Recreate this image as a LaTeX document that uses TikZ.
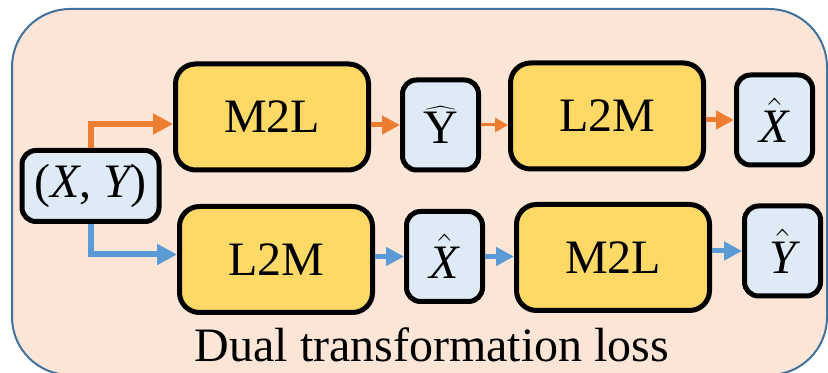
\documentclass[tikz,border=0pt]{standalone}
\usepackage{fontspec}
\setmainfont{Liberation Serif}
\usetikzlibrary{arrows.meta,positioning}
\definecolor{lossbg}{HTML}{FBE5D6}
\definecolor{lossline}{HTML}{41719C}
\definecolor{modelfill}{HTML}{FFD966}
\definecolor{varfill}{HTML}{DEEBF7}
\definecolor{oflow}{HTML}{ED7D31}
\definecolor{bflow}{HTML}{5B9BD5}
\newcommand{\itv}[1]{\mbox{\rmfamily\itshape #1}}
\tikzset{
  lossframe/.style={
    draw=lossline, fill=lossbg, line width=1pt,
    rounded corners=29pt
  },
  model/.style={
    draw, line width=2.5pt, fill=modelfill, rounded corners=10pt,
    minimum width=96.5pt, minimum height=53pt, inner sep=0pt,
    font=\rmfamily\fontsize{24}{28}\selectfont
  },
  var/.style={
    draw, line width=2.5pt, fill=varfill, rounded corners=7pt,
    minimum width=38pt, minimum height=45pt, inner sep=0pt,
    font=\rmfamily\fontsize{24}{28}\selectfont
  },
  pair/.style={var, minimum width=68.5pt, minimum height=35.5pt},
  oarrow/.style={draw=oflow, line width=2.5pt, -{Triangle[length=9pt,width=9pt]}},
  othin/.style={draw=oflow, line width=1.5pt, -{Triangle[length=6.5pt,width=7pt]}},
  obig/.style={draw=oflow, line width=3pt, -{Triangle[length=10pt,width=10pt]}},
  barrow/.style={draw=bflow, line width=2.5pt, -{Triangle[length=9pt,width=9pt]}},
  bbig/.style={draw=bflow, line width=3pt, -{Triangle[length=10pt,width=10pt]}}
}

\begin{document}
\begin{tikzpicture}

\useasboundingbox (0,0) rectangle (414pt,186.5pt);
\clip (0,0) rectangle (414pt,186.5pt);

% ---------- Loss frame ----------
\path[lossframe] (6pt,-1pt) rectangle (413.5pt,182pt);
\node[anchor=base, font=\rmfamily\fontsize{24}{28}\selectfont] (title) at (216pt,5.5pt)
  {Dual transformation loss};

% ---------- Input pair ----------
\node[pair] (xy) at (45.25pt,93.5pt) {(\itv{X}, \itv{Y})};

% ---------- Upper branch ----------
\node[model, right=5.75pt of xy, yshift=34.5pt] (m2la) {M2L};
\node[var, right=14.5pt of m2la, yshift=-4pt] (yhata) {$\widehat{\mbox{Y}}$};
\node[model, right=13.5pt of yhata, yshift=4.5pt] (l2ma) {L2M};
\node[var, right=14pt of l2ma, yshift=-2pt] (xhata) {$\hat{\itv{X}}$};

\draw[obig] (xy.north) |- ([yshift=-3.5pt]m2la.west);
\draw[oarrow] (m2la.east |- yhata.west) -- (yhata.west);
\draw[othin] (yhata.east) -- (l2ma.west |- yhata.east);
\draw[oarrow] (l2ma.east |- xhata.west) -- (xhata.west);

% ---------- Lower branch ----------
\node[model, right=7.75pt of xy, yshift=-36.75pt] (l2mb) {L2M};
\node[var, right=14.5pt of l2mb, yshift=1.5pt] (xhatb) {$\hat{\itv{X}}$};
\node[model, right=14.5pt of xhatb, yshift=-0.5pt] (m2lb) {M2L};
\node[var, right=15pt of m2lb, yshift=3.25pt] (yhatb) {$\hat{\itv{Y}}$};

\draw[bbig] (xy.south) |- ([yshift=2.5pt]l2mb.west);
\draw[barrow] (l2mb.east |- xhatb.west) -- (xhatb.west);
\draw[barrow] (xhatb.east) -- (m2lb.west |- xhatb.east);
\draw[barrow] (m2lb.east |- yhatb.west) -- (yhatb.west);

\end{tikzpicture}
\end{document}
